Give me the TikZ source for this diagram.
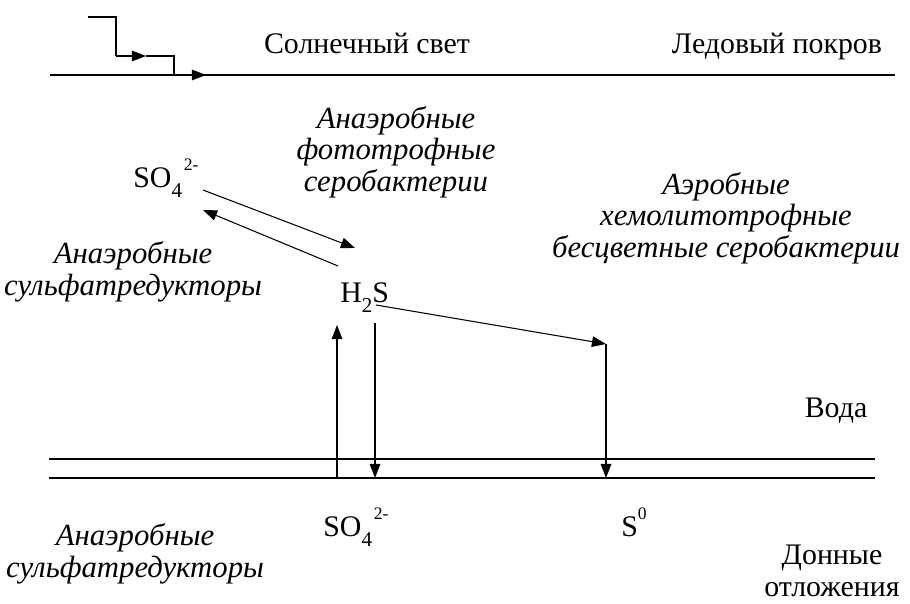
\documentclass[tikz,border=0pt]{standalone}
\usepackage{fontspec}
\setmainfont{Liberation Serif}
\usetikzlibrary{arrows.meta}
\newcommand{\subsc}[1]{\raisebox{-0.7ex}{\fontsize{12}{12}\selectfont #1}}
\newcommand{\supsc}[1]{\raisebox{1.3ex}{\fontsize{10}{10}\selectfont #1}}
\newcommand{\sulf}{SO\subsc{4}\kern1pt\supsc{2-}}
\begin{document}
\begin{tikzpicture}[
        x=0.02cm, y=-0.02cm,
        lbl/.style={font=\fontsize{17}{18}\selectfont, inner sep=0pt},
        bact/.style={lbl, font=\fontsize{17.5}{18}\selectfont\itshape, align=center},
        arr/.style={draw, -{Triangle[length=8pt,width=6pt]}, semithick},
        ln/.style={draw, semithick},
    ]
    \useasboundingbox (0,0) rectangle (910,604);
    % labels
    \node[lbl, anchor=base](sun) at (367,54){Солнечный свет};
    \node[lbl, anchor=base](ice) at (777,54){Ледовый покров};
    \node[bact](phot) at (396,152){Анаэробные\\фототрофные\\серобактерии};
    \node[bact](chem) at (726,218){Аэробные\\хемолитотрофные\\бесцветные серобактерии};
    \node[bact](red1) at (133,272){Анаэробные\\сульфатредукторы};
    \node[bact](red2) at (135,554){Анаэробные\\сульфатредукторы};
    \node[lbl](water) at (836,411){Вода};
    \node[lbl, align=center](sed) at (832,571){Донные\\отложения};
    \node[lbl, anchor=base west](so4) at (133,188){\sulf};
    \node[lbl, anchor=base west](h2s) at (340,303){H\subsc{2}S};
    \node[lbl, anchor=base west](so4b) at (323,537){\sulf};
    \node[lbl, anchor=base west](s0) at (621,537){S\supsc{0}};
    % sunlight
    \coordinate (s1) at (88,17);
    \coordinate (s2) at (116,56);
    \coordinate (s3) at (146,56);
    \coordinate (s4) at (174,75);
    \coordinate (s5) at (206,75);
    \draw[ln] (s1) -| (s2);
    \draw[arr] (s2) -- (s3);
    \draw[ln] (s3) -| (s4);
    \draw[arr] (s4) -- (s5);
    % ice and bottom
    \coordinate (iceL) at (50,75);
    \coordinate (iceR) at (895,75);
    \draw[ln] (iceL) -- (iceR);
    \coordinate (w1L) at (49,459);
    \coordinate (w1R) at (875,459);
    \coordinate (w2L) at (49,478);
    \coordinate (w2R) at (875,478);
    \draw[ln] (w1L) -- (w1R);
    \draw[ln] (w2L) -- (w2R);
    % cycle
    \coordinate (a1) at (203,190);
    \coordinate (a2) at (355,248);
    \coordinate (b1) at (338,266);
    \coordinate (b2) at (203,210);
    \draw[arr] (a1) -- (a2);
    \draw[arr] (b1) -- (b2);
    \coordinate (c1) at (376,305);
    \coordinate (c2) at (606,344);
    \coordinate (c3) at (606,478);
    \draw[arr] (c1) -- (c2);
    \draw[arr] (c2) -- (c3);
    \coordinate (u1) at (337,478);
    \coordinate (u2) at (337,325);
    \draw[arr] (u1) -- (u2);
    \coordinate (d1) at (375,323);
    \coordinate (d2) at (375,478);
    \draw[arr] (d1) -- (d2);
\end{tikzpicture}
\end{document}
